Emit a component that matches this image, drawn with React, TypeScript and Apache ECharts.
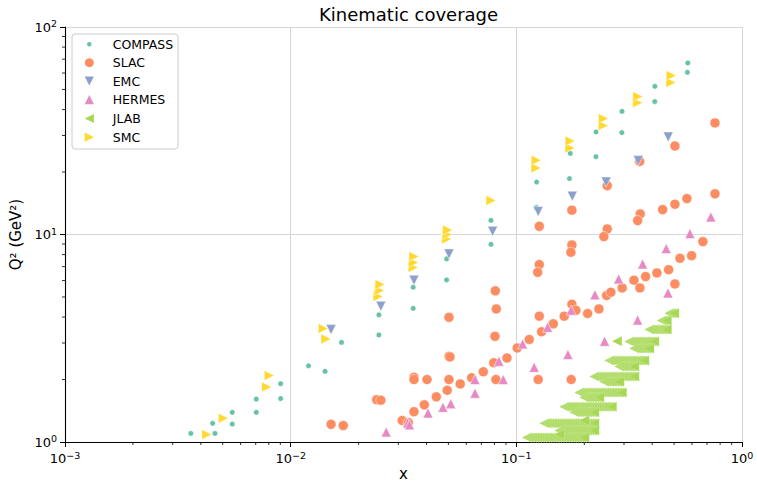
import React, { useEffect, useRef } from "react";
import * as echarts from "echarts";

const FONT = "DejaVu Sans";

// COMPASS
const compassX = [0.00361, 0.00451, 0.00462, 0.00551, 0.00551, 0.00704, 0.00704, 0.00903, 0.00903, 0.0120, 0.0142, 0.0168, 0.0246, 0.0246, 0.0349, 0.0349, 0.0491, 0.0491, 0.0772, 0.0772, 0.1225, 0.1230, 0.1720, 0.1734, 0.2256, 0.2253, 0.2940, 0.2935, 0.4110, 0.4105, 0.5750, 0.5730];
const compassQ2 = [1.10, 1.23, 1.10, 1.39, 1.22, 1.61, 1.39, 1.91, 1.62, 2.33, 2.19, 3.02, 4.10, 3.28, 4.41, 5.57, 7.63, 6.04, 11.7, 8.97, 13.5, 17.9, 18.6, 24.6, 31.2, 23.7, 39.2, 31.0, 51.8, 43.7, 67.1, 60.5];

// SLAC
const slacX = [0.0151, 0.0171, 0.02405, 0.0251, 0.0312, 0.0332, 0.0352, 0.0391, 0.0442, 0.0494, 0.0352, 0.0352, 0.0402, 0.0503, 0.0564, 0.0634, 0.0714, 0.0794, 0.0909, 0.1009, 0.0812, 0.0503, 0.0508, 0.0503, 0.0815, 0.0804, 0.0807, 0.1141, 0.1294, 0.1458, 0.1264, 0.163, 0.1763, 0.1837, 0.207, 0.2323, 0.2512, 0.2625, 0.2945, 0.3529, 0.332, 0.374, 0.4198, 0.473, 0.5044, 0.531, 0.598, 0.671, 0.1264, 0.1264, 0.1243, 0.1763, 0.1763, 0.1745, 0.2528, 0.2528, 0.2443, 0.354, 0.3448, 0.445, 0.5044, 0.570, 0.759, 0.125, 0.175, 0.759, 0.5044, 0.352];
const slacQ2 = [1.217, 1.20, 1.60, 1.59, 1.27, 1.24, 1.40, 1.51, 1.65, 1.775, 2.05, 2.00, 2.00, 2.00, 1.905, 2.04, 2.18, 2.41, 2.54, 2.84, 2.00, 2.59, 2.57, 3.99, 4.38, 3.23, 5.35, 3.12, 3.40, 3.71, 4.04, 4.04, 4.61, 4.31, 4.16, 4.38, 5.08, 5.27, 5.53, 5.53, 6.02, 6.27, 6.53, 6.77, 5.78, 7.68, 7.91, 9.24, 10.95, 7.16, 6.57, 13.1, 8.91, 8.21, 17.2, 10.64, 9.77, 12.57, 11.67, 13.18, 13.99, 14.9, 15.7, 2.00, 2.00, 34.5, 26.7, 22.5];

// EMC
const emcX = [0.0151, 0.0251, 0.0352, 0.0503, 0.0785, 0.125, 0.177, 0.250, 0.347, 0.471];
const emcQ2 = [3.48, 4.51, 6.02, 8.06, 10.36, 12.9, 15.3, 17.9, 22.7, 29.5];

// HERMES
const hermesX = [0.0265, 0.0330, 0.0336, 0.0406, 0.0473, 0.0512, 0.0656, 0.0656, 0.0837, 0.0875, 0.1066, 0.1376, 0.120, 0.1693, 0.175, 0.246, 0.3448, 0.2230, 0.2839, 0.3628, 0.4616, 0.588, 0.728, 0.4697];
const hermesQ2 = [1.118, 1.236, 1.21, 1.38, 1.47, 1.53, 2.00, 1.72, 2.45, 2.00, 2.97, 3.57, 2.29, 2.64, 4.32, 3.06, 3.87, 5.12, 6.11, 7.21, 8.55, 10.1, 12.16, 5.23];

// JLAB: one Q2 per row, with the x values measured along that row
const jlabRowQ2 = [4.17, 3.85, 3.48, 3.05, 2.82, 3.06, 2.47, 2.31, 2.07, 1.95, 1.73, 1.64, 1.48, 1.39, 1.23, 1.135, 1.27, 1.05, 1.09];
const jlabRowX = [
  [0.4758, 0.4880, 0.5006],
  [0.4408, 0.4521, 0.4638],
  [0.3880, 0.3980, 0.4083, 0.4189, 0.4297, 0.4408, 0.4521, 0.4638],
  [0.3165, 0.3247, 0.3330, 0.3416, 0.3504, 0.3595, 0.3688, 0.3783, 0.3880, 0.3980, 0.4083],
  [0.3330, 0.3416, 0.3504, 0.3595, 0.3688, 0.3783, 0.3880],
  [0.279],
  [0.2581, 0.2648, 0.2716, 0.2786, 0.2858, 0.2932, 0.3008, 0.3085, 0.3165, 0.3247, 0.3330, 0.3416, 0.3504, 0.3595, 0.3688],
  [0.2858, 0.2932, 0.3008, 0.3085, 0.3165, 0.3247, 0.3330],
  [0.2215, 0.2273, 0.2331, 0.2391, 0.2453, 0.2516, 0.2581, 0.2648, 0.2716, 0.2786, 0.2858, 0.2932, 0.3008, 0.3085, 0.3165, 0.3247, 0.3330],
  [0.2453, 0.2516, 0.2581, 0.2648, 0.2716, 0.2786, 0.2858],
  [0.1901, 0.1950, 0.2001, 0.2052, 0.2105, 0.2160, 0.2215, 0.2273, 0.2331, 0.2391, 0.2453, 0.2516, 0.2581, 0.2648, 0.2716, 0.2786, 0.2858, 0.2932],
  [0.2001, 0.2052, 0.2105, 0.2160, 0.2215, 0.2273, 0.2331],
  [0.1632, 0.1674, 0.1717, 0.1762, 0.1807, 0.1854, 0.1901, 0.1950, 0.2001, 0.2052, 0.2105, 0.2160, 0.2215, 0.2273, 0.2331, 0.2391, 0.2453, 0.2516, 0.2581, 0.2648],
  [0.1807, 0.1854, 0.1901, 0.1950, 0.2001, 0.2052, 0.2105, 0.2160, 0.2215],
  [0.1331, 0.1366, 0.1401, 0.1437, 0.1474, 0.1512, 0.1551, 0.1591, 0.1632, 0.1674, 0.1717, 0.1762, 0.1807, 0.1854, 0.1901, 0.1950, 0.2001, 0.2052, 0.2105, 0.2160, 0.2215],
  [0.1551, 0.1591, 0.1632, 0.1674, 0.1717, 0.1762, 0.1807, 0.1854, 0.1901, 0.1950, 0.2001, 0.2052, 0.2105, 0.2160, 0.2215],
  [0.2001],
  [0.1114, 0.1143, 0.1172, 0.1202, 0.1233, 0.1265, 0.1298, 0.1331, 0.1366, 0.1401, 0.1437, 0.1474, 0.1512, 0.1551, 0.1591, 0.1632, 0.1674, 0.1717, 0.1762, 0.1807, 0.1854, 0.1901, 0.1950, 0.2001],
  [0.1551],
];
const jlabX: number[] = jlabRowX.flat();
const jlabQ2: number[] = jlabRowX.flatMap((row, i) => row.map(() => jlabRowQ2[i]));

// SMC
const smcX = [0.00425, 0.00503, 0.00783, 0.00804, 0.01394, 0.01434, 0.0244, 0.0247, 0.0249, 0.0349, 0.0350, 0.0352, 0.0491, 0.0494, 0.0496, 0.0772, 0.1222, 0.1225, 0.1728, 0.1732, 0.2427, 0.2432, 0.3448, 0.3455, 0.484, 0.486];
const smcQ2 = [1.086, 1.30, 1.84, 2.09, 3.52, 3.14, 5.02, 5.37, 5.74, 6.93, 7.32, 7.83, 9.5, 10.0, 10.5, 14.6, 20.9, 22.8, 26.1, 28.2, 33.5, 36.2, 43.2, 46.2, 54.0, 58.3];

const seriesDefs = [
  { name: "COMPASS", xs: compassX, ys: compassQ2, color: "#66c2a5", symbol: "circle", size: 5.5, rotate: 0, edge: 0.5 },
  { name: "SLAC", xs: slacX, ys: slacQ2, color: "#fc8d62", symbol: "circle", size: 10, rotate: 0, edge: 0.5 },
  { name: "EMC", xs: emcX, ys: emcQ2, color: "#8da0cb", symbol: "triangle", size: 10, rotate: 180, edge: 0.5 },
  { name: "HERMES", xs: hermesX, ys: hermesQ2, color: "#e78ac3", symbol: "triangle", size: 10, rotate: 0, edge: 0.5 },
  { name: "JLAB", xs: jlabX, ys: jlabQ2, color: "#a6d854", symbol: "triangle", size: 10, rotate: 90, edge: 0.2 },
  { name: "SMC", xs: smcX, ys: smcQ2, color: "#ffd92f", symbol: "triangle", size: 10, rotate: -90, edge: 0.5 },
];

const GRID = { left: 65, right: 15, top: 27, bottom: 41 };

function powerLabel(v: number) {
  const e = Math.round(Math.log10(v));
  const exp = e < 0 ? "\u2212" + Math.abs(e) : String(e);
  return "{b|10}{s|" + exp + "}";
}

const tickRich = {
  b: { fontSize: 13, lineHeight: 17, fontFamily: FONT, color: "#000" },
  s: { fontSize: 9.5, lineHeight: 9, verticalAlign: "top", fontFamily: FONT, color: "#000" },
};

function triPoints(cx: number, cy: number, h: number, deg: number) {
  const t = (deg * Math.PI) / 180;
  const c = Math.cos(t);
  const s = Math.sin(t);
  return [[0, -h], [h, h], [-h, h]].map(([x, y]) => [cx + x * c + y * s, cy - x * s + y * c]);
}

export default function App() {
  const ref = useRef<HTMLDivElement>(null);

  useEffect(() => {
    if (!ref.current) return;
    const chart = echarts.init(ref.current, null, { renderer: "svg" });

    const axisCommon = {
      type: "log",
      logBase: 10,
      nameMoveOverlap: false,
      axisLine: { show: true, onZero: false, lineStyle: { color: "#000", width: 1.1 } },
      axisTick: { show: true, inside: false, length: 5, lineStyle: { color: "#000", width: 1 } },
      splitLine: { show: true, lineStyle: { color: "#d6d6d6", width: 1 } },
      minorTick: { show: false },
      axisLabel: { margin: 8, formatter: powerLabel, rich: tickRich },
    };

    chart.setOption({
      animation: false,
      backgroundColor: "#fff",
      textStyle: { fontFamily: FONT },
      title: {
        text: "Kinematic coverage",
        left: 314,
        top: 0,
        textStyle: { fontFamily: FONT, fontSize: 18, fontWeight: "normal", color: "#000" },
      },
      grid: { ...GRID, containLabel: false, outerBoundsMode: "none" },
      xAxis: {
        ...axisCommon,
        min: 0.001,
        max: 1,
        name: "x",
        nameLocation: "middle",
        nameGap: 24,
        nameTextStyle: { fontFamily: FONT, fontSize: 15, color: "#000", lineHeight: 16 },
      },
      yAxis: {
        ...axisCommon,
        min: 1,
        max: 100,
        name: "Q\u00b2 (GeV\u00b2)",
        nameLocation: "middle",
        nameGap: 42,
        nameTextStyle: { fontFamily: FONT, fontSize: 15, color: "#000" },
      },
      series: seriesDefs.map((d) => ({
        name: d.name,
        type: "scatter",
        data: d.xs.map((x, i) => [x, d.ys[i]]),
        symbol: d.symbol,
        symbolSize: d.size,
        symbolRotate: d.rotate,
        clip: true,
        emphasis: { disabled: true },
        itemStyle: { color: d.color, opacity: 1, borderColor: "#ffffff", borderWidth: d.edge },
      })),
    });

    // matplotlib-style minor ticks at 2..9 x 10^k
    const graphics: any[] = [];
    const yBottom = chart.convertToPixel({ yAxisIndex: 0 }, 1) as number;
    const xLeft = chart.convertToPixel({ xAxisIndex: 0 }, 0.001) as number;
    for (let k = -3; k <= -1; k++) {
      for (let m = 2; m <= 9; m++) {
        const px = chart.convertToPixel({ xAxisIndex: 0 }, m * Math.pow(10, k)) as number;
        graphics.push({
          type: "line",
          silent: true,
          shape: { x1: px, y1: yBottom, x2: px, y2: yBottom + 3 },
          style: { stroke: "#000", lineWidth: 0.8 },
        });
      }
    }
    for (let k = 0; k <= 1; k++) {
      for (let m = 2; m <= 9; m++) {
        const py = chart.convertToPixel({ yAxisIndex: 0 }, m * Math.pow(10, k)) as number;
        graphics.push({
          type: "line",
          silent: true,
          shape: { x1: xLeft - 3, y1: py, x2: xLeft, y2: py },
          style: { stroke: "#000", lineWidth: 0.8 },
        });
      }
    }

    // legend box
    const lx = 72;
    const ly = 34;
    const rows = [44.3, 62.7, 81, 99.7, 118.5, 137.2];
    graphics.push({
      type: "rect",
      silent: true,
      z: 10,
      shape: { x: lx, y: ly, width: 106, height: 115, r: 3 },
      style: { fill: "rgba(255,255,255,0.8)", stroke: "#cccccc", lineWidth: 1 },
    });
    seriesDefs.forEach((d, i) => {
      const cy = rows[i];
      const cx = 89.3;
      if (d.symbol === "circle") {
        graphics.push({
          type: "circle",
          silent: true,
          z: 11,
          shape: { cx, cy, r: d.size / 2 - 0.5 },
          style: { fill: d.color },
        });
      } else {
        graphics.push({
          type: "polygon",
          silent: true,
          z: 11,
          shape: { points: triPoints(cx, cy, 4.6, d.rotate) },
          style: { fill: d.color },
        });
      }
      graphics.push({
        type: "text",
        silent: true,
        z: 11,
        x: 112.7,
        y: cy,
        style: {
          text: d.name,
          fill: "#000",
          font: `12.5px "${FONT}"`,
          textVerticalAlign: "middle",
          verticalAlign: "middle",
        },
      });
    });

    chart.setOption({ graphic: graphics });

    return () => chart.dispose();
  }, []);

  return (
    <div
      ref={ref}
      style={{ position: "fixed", left: 0, top: 0, width: 757, height: 483, background: "#fff" }}
    />
  );
}
